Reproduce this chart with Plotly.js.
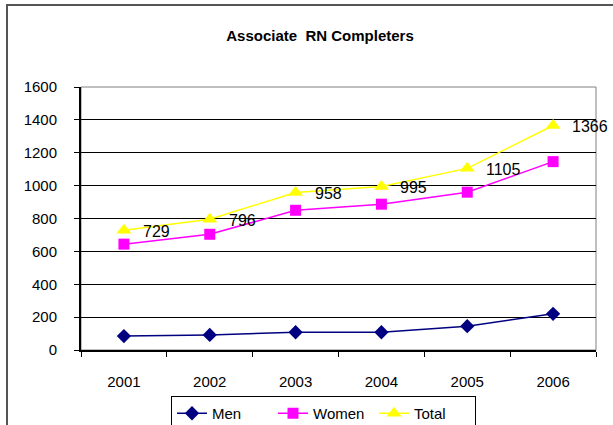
<!DOCTYPE html>
<html>
<head>
<meta charset="utf-8">
<script src="https://cdn.plot.ly/plotly-3.0.1.min.js"></script>
<style>html,body{margin:0;padding:0;background:#fff;}#chart{width:613px;height:425px;}</style>
</head>
<body>
<div id="chart"></div>
<script>
var years = ['2001', '2002', '2003', '2004', '2005', '2006'];
var men = [85, 92, 108, 108, 145, 220];
var women = [644, 704, 850, 887, 960, 1146];
var total = [729, 796, 958, 995, 1105, 1366];
var yTicks = [0, 200, 400, 600, 800, 1000, 1200, 1400, 1600];

var F = 'Liberation Sans, Arial, sans-serif';
var L = 81, R = 17, T = 87, B = 75;
var pw = 613 - L - R, ph = 425 - T - B;
function px(x) { return (x - L) / pw; }
function py(y) { return (425 - B - y) / ph; }

var traces = [
  {x: years, y: men, name: 'Men', type: 'scatter', mode: 'lines+markers',
   line: {color: '#000080', width: 1.5}, marker: {symbol: 'diamond', size: 11, color: '#000080'}},
  {x: years, y: women, name: 'Women', type: 'scatter', mode: 'lines+markers',
   line: {color: '#FF00FF', width: 1.5}, marker: {symbol: 'square', size: 11, color: '#FF00FF'}},
  {x: years, y: total, name: 'Total', type: 'scatter', mode: 'lines+markers',
   line: {color: '#FFFF00', width: 1.5}, marker: {symbol: 'triangle-up', size: 13, color: '#FFFF00'}}
];

var annotations = years.map(function (yr, i) {
  return {x: i, y: total[i], xref: 'x', yref: 'y', text: String(total[i]), showarrow: false,
    xanchor: 'left', yanchor: 'middle', xshift: 17, yshift: -1,
    font: {family: F, size: 16, color: '#000'}};
});

var layout = {
  width: 613, height: 425,
  margin: {l: L, r: R, t: T, b: B, pad: 0, autoexpand: false},
  paper_bgcolor: '#fff', plot_bgcolor: '#fff',
  showlegend: true,
  font: {family: F, size: 15, color: '#000'},
  title: {text: '<b>Associate  RN Completers</b>', font: {family: F, size: 15, color: '#000'},
    x: 320 / 613, xanchor: 'center', xref: 'container', y: 1 - 36 / 425, yanchor: 'middle', yref: 'container'},
  xaxis: {type: 'category', categoryarray: years, tickvals: years, ticktext: years,
    showgrid: false, zeroline: false, showline: true, linecolor: '#000', linewidth: 2,
    ticks: 'outside', tickson: 'boundaries', ticklen: 5, tickcolor: '#000', tickwidth: 1,
    ticklabelstandoff: 17, tickfont: {family: F, size: 15, color: '#000'},
    range: [-0.5, 5.5], fixedrange: true, automargin: false},
  yaxis: {range: [0, 1600], tickvals: yTicks, ticktext: yTicks.map(String),
    showgrid: true, gridcolor: '#000', gridwidth: 1, zeroline: false,
    showline: true, linecolor: '#000', linewidth: 2,
    ticks: 'outside', ticklen: 5, tickcolor: '#000', tickwidth: 1,
    ticklabelstandoff: 14, tickfont: {family: F, size: 15, color: '#000'}, fixedrange: true, automargin: false},
  legend: {orientation: 'h', x: px(171), xanchor: 'left', y: py(396), yanchor: 'top',
    bordercolor: '#000', borderwidth: 1, bgcolor: '#fff',
    font: {family: F, size: 15, color: '#000'}, itemwidth: 30, tracegroupgap: 0,
    entrywidthmode: 'pixels', entrywidth: 56},
  annotations: annotations,
  shapes: [
    {type: 'rect', xref: 'paper', yref: 'paper', x0: 0, x1: 1, y0: 0, y1: 1,
     line: {color: '#808080', width: 1}, layer: 'below'},
    {type: 'rect', xref: 'paper', yref: 'paper', x0: px(7), x1: px(640), y0: py(440), y1: py(5),
     line: {color: '#555', width: 2}, layer: 'below'}
  ]
};

Plotly.newPlot('chart', traces, layout, {displayModeBar: false, staticPlot: true});
</script>
</body>
</html>
